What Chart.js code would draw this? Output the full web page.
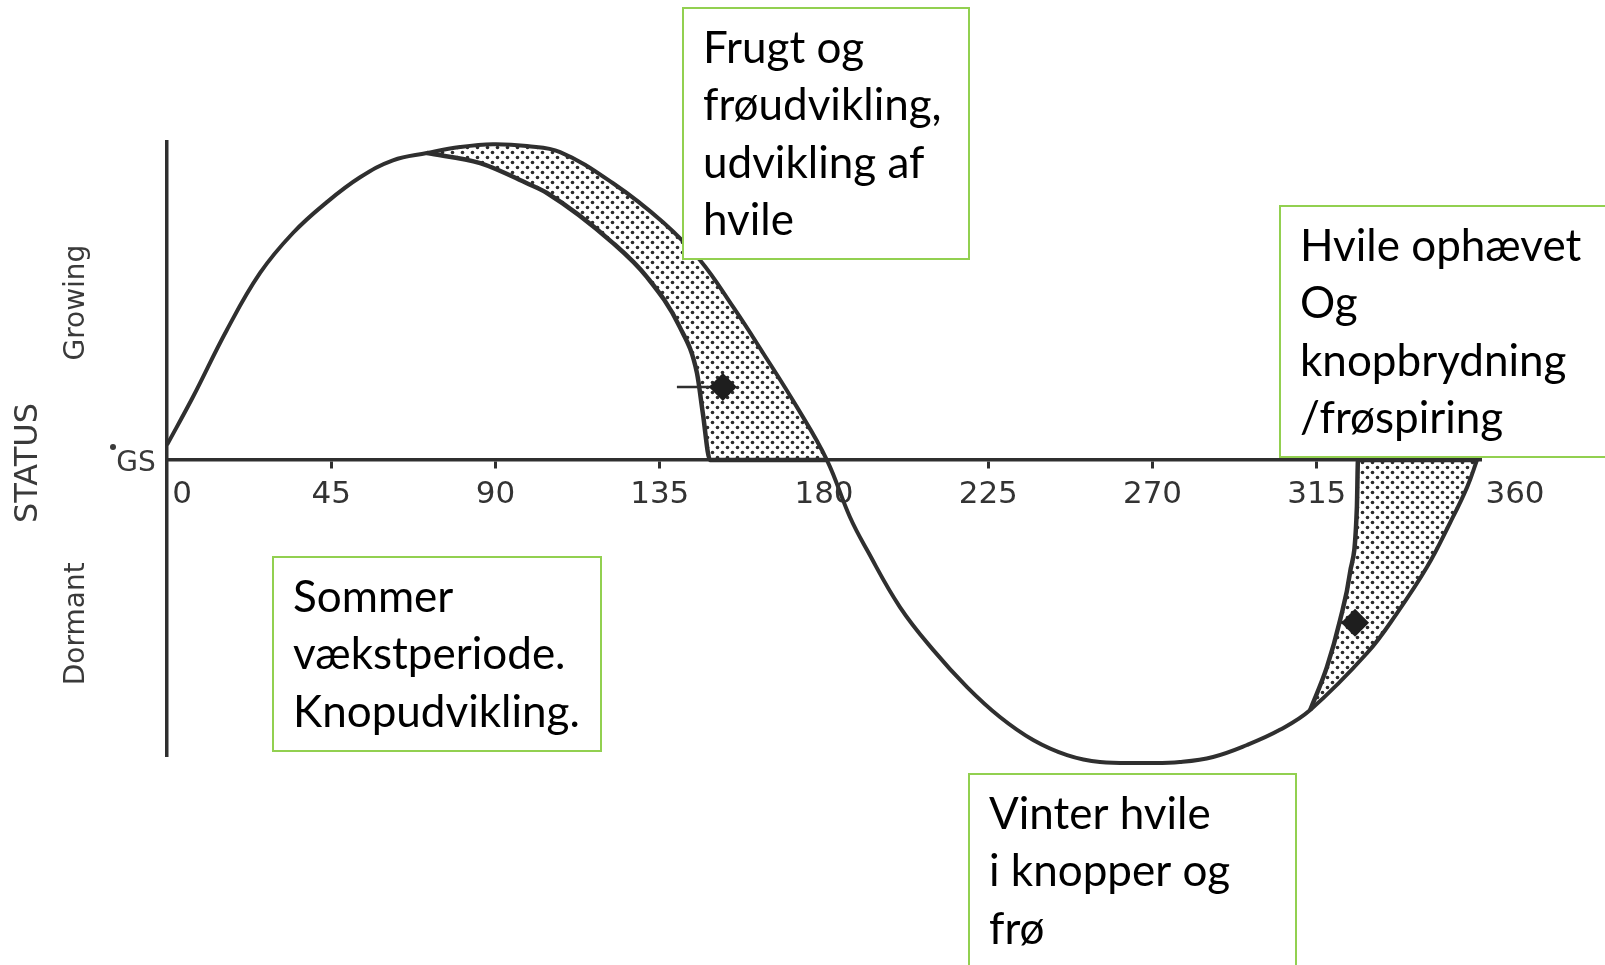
<!DOCTYPE html>
<html>
<head>
<meta charset="utf-8">
<script src="https://cdn.jsdelivr.net/npm/chart.js@4.4.1/dist/chart.umd.min.js"></script>
<style>
  html, body { margin: 0; padding: 0; background: #fff; }
  #wrap { width: 1605px; height: 965px; }
</style>
</head>
<body>
<div id="wrap"><canvas id="c" width="1605" height="965"></canvas></div>
<script>
// ---- values: degrees of the year cycle vs. status ----
// main cycle curve (growth -> fruit -> winter rest -> bud break)
const cycleDeg = [0, 7.1, 16.4, 25.5, 34.5, 43.8, 52.9, 61.9, 71.2, 80.3, 89.3, 98.6, 107.7,
  122.2, 135.9, 146.0, 155.1, 163.3, 172.6, 180.8, 187.1, 191.8, 200.8, 209.9, 219.2, 228.2,
  237.3, 246.6, 255.6, 269.3, 277.5, 286.6, 295.9, 304.9, 313.2, 328.8, 337.0, 345.2, 351.5, 356.2, 358.9];
const cycleStatus = [4.8, 20.0, 41.3, 59.4, 72.1, 81.9, 89.8, 95.2, 97.5, 99.4, 100.3, 99.7, 97.8,
  87.9, 75.5, 63.5, 48.6, 34.0, 16.8, 0, -18.1, -28.6, -46.7, -60.3, -72.1, -81.6,
  -88.9, -93.7, -95.9, -96.2, -95.9, -94.3, -90.5, -85.7, -79.4, -61.3, -48.6, -34.0, -20.0, -8.6, 0];

// inner edge of the dotted band (onset of rest)
const restDeg = [71.2, 85.8, 98.6, 104.1, 122.2, 131.5, 140.5, 145.2, 146.8, 148.8, 180.8];
const restStatus = [97.5, 94.3, 87.9, 84.8, 68.9, 58.1, 42.2, 27.6, 14.9, 0, 0];

// edge of the dotted band at bud break / germination
const springDeg = [313.2, 317.8, 321.4, 324.1, 326.0, 326.3, 358.9];
const springStatus = [-79.4, -65.7, -50.8, -35.9, -14.9, 0, 0];

// the two dark marks inside the bands
const markDeg = [139.7, 152.3];
const markStatus = [23.2, 23.2];
const mark2Deg = [325.5];
const mark2Status = [-51.7];

const tickDegrees = [0, 45, 90, 135, 180, 225, 270, 315, 360];
const tickLabels = ["0", "45", "90", "135", "180", "225", "270", "315", "360"];

const statusLabels = ["Growing", "Dormant"];
const statusLevels = [50, -52];

const notes = [
  ["Frugt og", "frøudvikling,", "udvikling af", "hvile"],
  ["Hvile ophævet", "Og", "knopbrydning", "/frøspiring"],
  ["Sommer", "vækstperiode.", "Knopudvikling."],
  ["Vinter hvile", "i knopper og", "frø"],
];

const toXY = (xs, ys) => xs.map((v, i) => ({ x: v, y: ys[i] }));

// dotted fill like the printed screen
function dotPattern() {
  const c = document.createElement("canvas");
  c.width = 10;
  c.height = 10;
  const g = c.getContext("2d");
  g.fillStyle = "#fff";
  g.fillRect(0, 0, 10, 10);
  g.fillStyle = "#2a2a2a";
  [[2.5, 2.5], [7.5, 7.5]].forEach(([px, py]) => {
    g.beginPath();
    g.arc(px, py, 1.8, 0, Math.PI * 2);
    g.fill();
  });
  return g.createPattern(c, "repeat");
}

const INK = "#2f2f2f";

const decor = {
  id: "decor",
  afterDraw(chart) {
    const { ctx, chartArea, scales } = chart;
    const x = scales.x, y = scales.y;
    const y0 = y.getPixelForValue(0);
    ctx.save();

    // tick labels under the axis
    ctx.fillStyle = "#333";
    ctx.font = '31px "DejaVu Sans"';
    ctx.textAlign = "center";
    ctx.textBaseline = "middle";
    tickDegrees.forEach((d, i) => {
      let shift = 0;
      if (d === 0) shift = 15;
      if (d === 360) shift = 34;
      ctx.fillText(tickLabels[i], x.getPixelForValue(d) + shift, y0 + 35);
    });

    // vertical axis texts
    const vtext = (txt, cx, cy, font) => {
      ctx.save();
      ctx.translate(cx, cy);
      ctx.rotate(-Math.PI / 2);
      ctx.font = font;
      ctx.fillStyle = "#3a3a3a";
      ctx.fillText(txt, 0, 0);
      ctx.restore();
    };
    vtext("STATUS", chartArea.left - 138, y0 + 3, '32px "DejaVu Sans"');
    statusLabels.forEach((s, i) => {
      vtext(s, chartArea.left - 90, y.getPixelForValue(statusLevels[i]), '28px "DejaVu Sans"');
    });
    ctx.fillStyle = "#3a3a3a";
    ctx.font = '28px "DejaVu Sans"';
    ctx.fillText("GS", chartArea.left - 31, y0 + 4);
    ctx.beginPath();
    ctx.arc(chartArea.left - 54, y0 - 13, 3, 0, Math.PI * 2);
    ctx.fill();

    // green note boxes
    const boxes = [
      { left: 683, top: 8, w: 286, h: 251 },
      { left: 1280, top: 206, w: 340, h: 251 },
      { left: 273, top: 557, w: 328, h: 194 },
      { left: 969, top: 774, w: 327, h: 220 },
    ];
    ctx.textAlign = "left";
    boxes.forEach((b, i) => {
      ctx.fillStyle = "#fff";
      ctx.fillRect(b.left, b.top, b.w, b.h);
      ctx.strokeStyle = "#92d050";
      ctx.lineWidth = 2;
      ctx.strokeRect(b.left, b.top, b.w, b.h);
      ctx.fillStyle = "#000";
      ctx.font = '44px "Lato"';
      notes[i].forEach((line, k) => {
        ctx.fillText(line, b.left + 20, b.top + 41 + k * 57.3);
      });
    });

    ctx.restore();
  },
};

const pattern = dotPattern();

new Chart(document.getElementById("c"), {
  type: "line",
  data: {
    datasets: [
      {
        label: "Cycle",
        data: toXY(cycleDeg, cycleStatus),
        borderColor: INK,
        borderWidth: 4,
        tension: 0.4,
        pointRadius: 0,
        fill: false,
        clip: false,
      },
      {
        label: "Rest onset",
        data: toXY(restDeg, restStatus),
        borderColor: INK,
        borderWidth: 4.5,
        backgroundColor: pattern,
        cubicInterpolationMode: "monotone",
        pointRadius: 0,
        fill: 0,
        clip: false,
      },
      {
        label: "Bud break",
        data: toXY(springDeg, springStatus),
        borderColor: INK,
        borderWidth: 4.5,
        backgroundColor: pattern,
        cubicInterpolationMode: "monotone",
        pointRadius: 0,
        fill: 0,
        clip: false,
      },
      {
        label: "Mark",
        data: toXY(markDeg, markStatus),
        order: -1,
        borderColor: INK,
        borderWidth: 2.5,
        pointStyle: "rectRot",
        pointRadius: [0, 14],
        pointBackgroundColor: "#1e1e1e",
        pointBorderWidth: 0,
        fill: false,
        clip: false,
      },
      {
        label: "Mark 2",
        data: toXY(mark2Deg, mark2Status),
        order: -1,
        showLine: false,
        pointStyle: "rectRot",
        pointRadius: 14,
        pointBackgroundColor: "#1e1e1e",
        pointBorderWidth: 0,
        fill: false,
        clip: false,
      },
    ],
  },
  options: {
    responsive: false,
    animation: false,
    events: [],
    layout: { padding: { left: 167, right: 124, top: 142, bottom: 209 } },
    scales: {
      x: {
        type: "linear",
        min: 0,
        max: 360,
        position: { y: 0 },
        ticks: { display: false, stepSize: 45 },
        grid: {
          drawOnChartArea: false,
          drawTicks: true,
          tickLength: 7,
          tickWidth: 3,
          tickColor: (c) => ([0, 180, 360].includes(c.tick && c.tick.value) ? "rgba(0,0,0,0)" : INK),
        },
        border: { display: true, color: INK, width: 3.5 },
      },
      y: {
        type: "linear",
        min: -94,
        max: 101,
        ticks: { display: false },
        grid: { display: false, drawTicks: false },
        border: { display: true, color: INK, width: 3.5 },
      },
    },
    plugins: {
      legend: { display: false },
      title: { display: false },
      tooltip: { enabled: false },
    },
  },
  plugins: [decor],
});
</script>
</body>
</html>
